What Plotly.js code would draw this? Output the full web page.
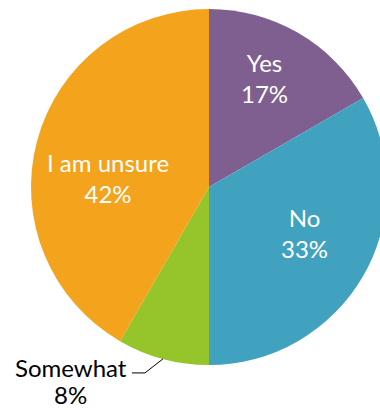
<!DOCTYPE html>
<html><head><meta charset="utf-8">
<script src="https://cdn.plot.ly/plotly-3.0.1.min.js"></script>
<style>html,body{margin:0;padding:0;overflow:hidden;background:#fff;width:380px;height:410px}#c{width:400px;height:410px}</style>
</head><body><div id="c"></div>
<script>
const categories = ['Yes', 'No', 'Somewhat', 'I am unsure'];
const values = [2, 4, 1, 5];
const colors = ['#7F5F8F', '#41A2C0', '#95C52B', '#F4A31C'];

const W = 400, H = 410;
const dom = {x: [31 / W, 387 / W], y: [45 / H, 401 / H]};
const total = values.reduce((a, b) => a + b, 0);

// label placement (polar, relative to pie) — styling only
const labelRadius = [0.685, 0.595, 1.0, 0.57];
const labelAngleShift = [-3, -4.5, 0, -10];
const labelInside = [true, true, false, true];

let cum = 0; const mids = [];
values.forEach(v => { mids.push((cum + v / 2) / total * 360); cum += v; });
const cx = (dom.x[0] + dom.x[1]) / 2 * W, cy = H - (dom.y[0] + dom.y[1]) / 2 * H;
const R = (dom.x[1] - dom.x[0]) * W / 2;
const px = x => x / W, py = y => 1 - y / H;
const rad = d => d * Math.PI / 180;

const annotations = [], shapes = [];
values.forEach((v, i) => {
  const pct = Math.round(v / total * 100);
  if (labelInside[i]) {
    const a = rad(mids[i] + labelAngleShift[i]), r = R * labelRadius[i];
    annotations.push({xref: 'paper', yref: 'paper', x: px(cx + r * Math.sin(a)), y: py(cy - r * Math.cos(a)),
      xanchor: 'center', yanchor: 'middle', showarrow: false, align: 'center',
      text: categories[i] + '<br>' + pct + '%',
      font: {family: 'Lato, sans-serif', size: 24, color: '#ffffff'}});
  } else {
    const a = rad(mids[i]);
    const ex = cx + R * Math.sin(a), ey = cy - R * Math.cos(a);
    shapes.push({type: 'path', xref: 'paper', yref: 'paper',
      path: 'M ' + px(ex) + ' ' + py(ey) + ' L ' + px(ex - 18) + ' ' + py(ey + 14) + ' L ' + px(ex - 31) + ' ' + py(ey + 14),
      line: {color: '#000', width: 1}});
    const tx = ex - 35 - 57;
    annotations.push({xref: 'paper', yref: 'paper', x: px(tx), y: py(ey + 9),
      xanchor: 'center', yanchor: 'middle', showarrow: false, borderpad: 0,
      text: categories[i], font: {family: 'Lato, sans-serif', size: 24, color: '#000'}});
    annotations.push({xref: 'paper', yref: 'paper', x: px(tx), y: py(ey + 36),
      xanchor: 'center', yanchor: 'middle', showarrow: false, borderpad: 0,
      text: pct + '%', font: {family: 'Lato, sans-serif', size: 24, color: '#000'}});
  }
});

const trace = {
  type: 'pie', values: values, labels: categories, sort: false,
  direction: 'clockwise', rotation: 0, domain: dom,
  marker: {colors: colors, line: {width: 0}},
  textinfo: 'none', hoverinfo: 'none', showlegend: false
};

const layout = {
  width: W, height: H, margin: {l: 0, r: 0, t: 0, b: 0},
  paper_bgcolor: '#fff', showlegend: false,
  shapes: shapes, annotations: annotations
};
Plotly.newPlot('c', [trace], layout, {displayModeBar: false, staticPlot: true});
</script></body></html>
